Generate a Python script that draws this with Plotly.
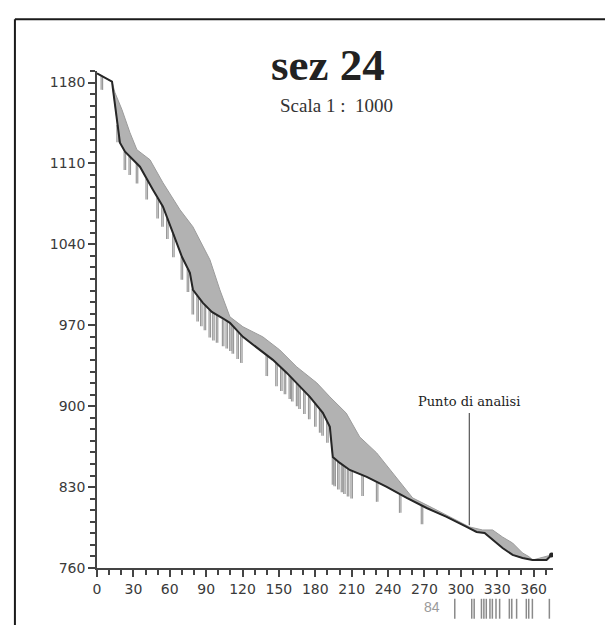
import numpy as np
import plotly.graph_objects as go

# Terrain profile (black line): distance (m) and elevation (m a.s.l.)
profile_x = [0, 12.4, 13.2, 18.9, 23.1, 35.4, 46.1, 54.4, 62.6, 70.0, 76.6, 79.1, 87.3, 94.7,
             103.0, 109.6, 120.3, 131.8, 145.0, 156.5, 164.7, 175.5, 186.2, 192.0, 194.4, 200.2,
             208.4, 222.4, 238.9, 255.4, 271.8, 288.3, 304.8, 313.0, 319.6, 326.2, 334.4, 342.7,
             350.9, 359.1, 370.7, 374.8]
profile_y = [1188, 1180.8, 1173.9, 1128.0, 1120.2, 1107.2, 1087.3, 1072.6, 1050.0, 1029.3, 1015.4,
             1000.7, 989.4, 981.6, 976.5, 972.1, 960.0, 950.5, 940.1, 928.8, 920.2, 908.1, 894.2,
             882.1, 856.1, 850.9, 844.8, 838.8, 830.1, 820.6, 811.9, 804.2, 795.5, 791.2, 790.3,
             784.2, 777.3, 771.3, 768.7, 766.9, 766.9, 771.3]

# Upper envelope of the simulated flow band (grey area)
band_x = [12.4, 14.8, 20.6, 27.2, 32.9, 43.7, 54.4, 68.4, 79.1, 93.1, 101.3, 109.6, 120.3, 136.7,
          150.7, 164.7, 181.2, 192.0, 205.5, 216.6, 230.6, 243.8, 255.4, 260.3, 276.8, 293.2,
          307.2, 318.0, 326.2, 334.4, 342.7, 350.9, 356.7, 359.1]
band_y = [1180.8, 1171.3, 1156.5, 1136.6, 1121.9, 1113.2, 1093.3, 1070.0, 1055.2, 1026.7, 1000.7,
          977.3, 968.7, 960.0, 948.7, 934.0, 920.2, 908.1, 894.0, 873.4, 859.6, 842.3, 827.5,
          820.6, 811.9, 803.3, 795.5, 792.9, 792.9, 786.8, 781.6, 773.0, 769.5, 766.9]

# Hatch marks hanging below the profile: position and length (m)
hatch_x = [4, 17, 23, 27, 33, 41, 50, 54, 58, 63, 70, 75, 79, 83, 86, 89, 93, 96, 99, 104,
           107, 110, 112, 116, 119, 140, 148, 152, 155, 159, 161, 165, 167, 171, 175, 180, 184,
           186, 190, 194.6, 196, 199, 202, 204, 207, 210, 219, 231, 250, 268]
hatch_len = [12, 15, 16, 16, 17, 18, 18, 18, 18, 20, 20, 20, 22, 22, 22, 22, 24, 24, 24, 24,
             24, 24, 24, 24, 24, 18, 20, 20, 20, 20, 20, 20, 20, 20, 20, 20, 20,
             20, 18, 24, 24, 24, 24, 24, 24, 24, 18, 17, 16, 16]

# Analysis point
analysis_x = 307
analysis_y = [797, 894]
analysis_label = "Punto di analisi"

# Scan artefacts below the axis
barcode_x = [295, 309, 311, 317, 319, 321, 324, 326, 329, 332, 340, 342, 346, 354, 356, 359, 373]
page_number = "84"

title = "sez 24"
subtitle = "Scala 1 :\u00a0 1000"

fig = go.Figure()

# grey band polygon
poly_x = band_x + profile_x[::-1]
poly_y = band_y + profile_y[::-1]
fig.add_trace(go.Scatter(x=poly_x, y=poly_y, fill="toself", fillcolor="#b2b2b2",
                         line=dict(color="#9c9c9c", width=1), mode="lines",
                         hoverinfo="skip", showlegend=False))

# hatch marks
hx, hy = [], []
for x, L in zip(hatch_x, hatch_len):
    top = float(np.interp(x, profile_x, profile_y))
    for dx in (-0.6, 0.6):
        hx += [x + dx, x + dx, None]
        hy += [top, top - L, None]
fig.add_trace(go.Scatter(x=hx, y=hy, mode="lines", line=dict(color="#999999", width=1.2),
                         hoverinfo="skip", showlegend=False))

# profile
fig.add_trace(go.Scatter(x=profile_x, y=profile_y, mode="lines",
                         line=dict(color="#262626", width=2), showlegend=False))
fig.add_trace(go.Scatter(x=[profile_x[-1]], y=[profile_y[-1]], mode="markers",
                         marker=dict(color="#262626", size=5), showlegend=False))

# analysis point line
fig.add_trace(go.Scatter(x=[analysis_x, analysis_x], y=analysis_y, mode="lines",
                         line=dict(color="#555555", width=1.2), showlegend=False))
fig.add_annotation(x=analysis_x, y=analysis_y[1] + 2, text=analysis_label, showarrow=False,
                   yanchor="bottom", xanchor="center",
                   font=dict(family="DejaVu Serif", size=13, color="#222222"))

# titles
fig.add_annotation(x=0.507, y=1.012, xref="paper", yref="paper", text="<b>" + title + "</b>",
                   showarrow=False, yanchor="middle",
                   font=dict(family="Liberation Serif", size=45, color="#222222"))
fig.add_annotation(x=0.525, y=0.930, xref="paper", yref="paper", text=subtitle,
                   showarrow=False, yanchor="middle",
                   font=dict(family="Liberation Serif", size=19, color="#333333"))

# scan artefacts
for bx in barcode_x:
    fig.add_shape(type="line", xref="x", yref="paper", x0=bx, x1=bx, y0=-0.062, y1=-0.102,
                  line=dict(color="#8a8a8a", width=1.5))
fig.add_annotation(x=276, y=-0.098, xref="x", yref="paper", text=page_number, showarrow=False,
                   font=dict(family="Liberation Sans", size=14, color="#9a9a9a"))

# frame
fig.add_shape(type="line", xref="paper", yref="paper", x0=-0.180, x1=1.2, y0=1.104, y1=1.104,
              line=dict(color="#1a1a1a", width=2))
fig.add_shape(type="line", xref="paper", yref="paper", x0=-0.180, x1=-0.180, y0=1.104, y1=-0.2,
              line=dict(color="#1a1a1a", width=2))

axis_common = dict(showgrid=False, zeroline=False, showline=True, linecolor="#444444",
                   linewidth=1.5, ticks="outside", ticklen=7, tickwidth=1.5, tickcolor="#444444",
                   tickfont=dict(family="DejaVu Sans", size=14, color="#3a3a3a"))

fig.update_xaxes(range=[0, 376], tickmode="linear", tick0=0, dtick=30,
                 minor=dict(dtick=10, tick0=0, ticks="outside", ticklen=5, tickwidth=1.5,
                            tickcolor="#444444"), **axis_common)
fig.update_yaxes(range=[760, 1190], tickmode="linear", tick0=760, dtick=70,
                 minor=dict(dtick=10, tick0=760, ticks="outside", ticklen=5, tickwidth=1.5,
                            tickcolor="#444444"), **axis_common)

fig.update_layout(width=605, height=617, margin=dict(l=89, r=60, t=63, b=57),
                  paper_bgcolor="white", plot_bgcolor="white", showlegend=False)

fig.write_html("out.html")
